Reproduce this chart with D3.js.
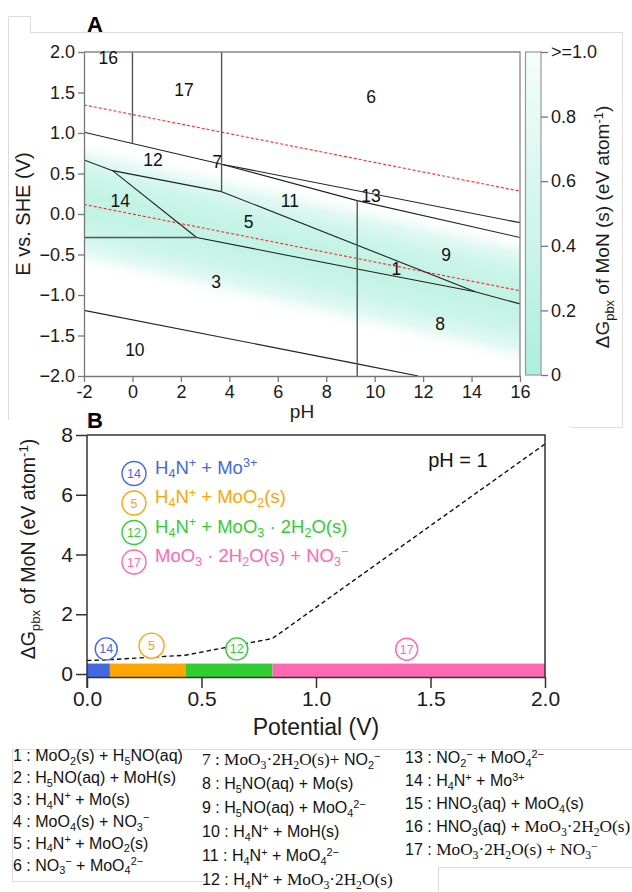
<!DOCTYPE html>
<html><head><meta charset="utf-8">
<script src="https://cdn.jsdelivr.net/npm/d3@7"></script>
<style>body{margin:0;background:#fff} svg{display:block} text{white-space:pre}</style>
</head><body>
<svg id="fig" width="632" height="892"></svg>
<script>
// ---------- Panel A: Pourbaix diagram of MoN ----------
const phTicks = [-2, 0, 2, 4, 6, 8, 10, 12, 14, 16];
const phTickLabels = ["-2", "0", "2", "4", "6", "8", "10", "12", "14", "16"];
const eTicks = [-2, -1.5, -1, -0.5, 0, 0.5, 1, 1.5, 2];
const eTickLabels = ["\u22122.0", "\u22121.5", "\u22121.0", "\u22120.5", "0.0", "0.5", "1.0", "1.5", "2.0"];
const cbTicks = [0, 0.2, 0.4, 0.6, 0.8, 1.0];
const cbTickLabels = ["0", "0.2", "0.4", "0.6", "0.8", ">=1.0"];

// phase boundaries as (pH, E) polylines
const slopedBoundaries = [
  [[-2, 1.01], [3.68, 0.615], [16, -0.107]],
  [[3.68, 0.615], [9.28, 0.165], [16, -0.29]],
  [[-2, 0.668], [-0.82, 0.535], [3.68, 0.276]],
  [[-0.82, 0.535], [2.65, -0.29]],
  [[2.65, -0.29], [9.28, -0.68], [14.15, -0.96], [16, -1.11]],
  [[3.68, 0.276], [14.15, -0.96]],
  [[-2, -1.19], [9.28, -1.85], [11.8, -2.0]]
];
const straightBoundaries = [
  [[0, 2], [0, 0.87]],
  [[3.68, 2], [3.68, 0.276]],
  [[9.28, 0.165], [9.28, -2]],
  [[-2, -0.29], [2.65, -0.29]]
];
// water stability limits
const waterUpper = [[-2, 1.347], [16, 0.282]];
const waterLower = [[-2, 0.118], [16, -0.947]];

// region numbers and their (pH, E) anchor
const regionIds = [16, 17, 6, 12, 7, 14, 11, 5, 13, 9, 1, 3, 8, 10];
const regionPH  = [-1.0, 2.13, 9.85, 0.85, 3.5, -0.5, 6.5, 4.8, 9.85, 12.95, 10.9, 3.45, 12.7, 0.1];
const regionE   = [1.93, 1.53, 1.45, 0.67, 0.64, 0.17, 0.17, -0.09, 0.22, -0.5, -0.67, -0.84, -1.36, -1.68];

// low-ΔGpbx band (MoN near-stable zone): centre line and ΔG profile across it
const bandCenter = [[-2, 0.12], [16, -1.08]];
const bandOffset = [-0.8, -0.58, -0.36, -0.12, 0.12, 0.36, 0.58, 0.8];
const bandDG     = [1.0, 0.72, 0.45, 0.3, 0.3, 0.45, 0.72, 1.0];

// ---------- Panel B: ΔGpbx at pH = 1 ----------
const potTicks = [0, 0.5, 1.0, 1.5, 2.0];
const potTickLabels = ["0.0", "0.5", "1.0", "1.5", "2.0"];
const dgTicks = [0, 2, 4, 6, 8];
const dgTickLabels = ["0", "2", "4", "6", "8"];
const hullPotential = [0, 0.10, 0.43, 0.81, 2.0];
const hullDG        = [0.45, 0.48, 0.63, 1.19, 7.7];
const stageIds   = [14, 5, 12, 17];
const stageStart = [0, 0.10, 0.43, 0.81];
const stageEnd   = [0.10, 0.43, 0.81, 2.0];
const stageColors = ["#4169e1", "#ffa500", "#32cd32", "#ff69b4"];
const stageBarTop = 0.35;
const stageLabelV  = [0.084, 0.282, 0.654, 1.396];
const stageLabelDG = [0.84, 0.95, 0.84, 0.83];
const stageNames = [
  "H_{4}N^{+} + Mo^{3+}",
  "H_{4}N^{+} + MoO_{2}(s)",
  "H_{4}N^{+} + MoO_{3} \u00b7 2H_{2}O(s)",
  "MoO_{3} \u00b7 2H_{2}O(s) + NO_{3}^{\u2212}"
];

// ---------- species key ----------
const speciesKey = [
  "1 : MoO_{2}(s) + H_{5}NO(aq)",
  "2 : H_{5}NO(aq) + MoH(s)",
  "3 : H_{4}N^{+} + Mo(s)",
  "4 : MoO_{4}(s) + NO_{3}^{\u2212}",
  "5 : H_{4}N^{+} + MoO_{2}(s)",
  "6 : NO_{3}^{\u2212} + MoO_{4}^{2\u2212}",
  "|7 : MoO_{3}\u00b72H_{2}O(s)+| NO_{2}^{\u2212}",
  "8 : H_{5}NO(aq) + Mo(s)",
  "9 : H_{5}NO(aq) + MoO_{4}^{2\u2212}",
  "10 : H_{4}N^{+} + MoH(s)",
  "11 : H_{4}N^{+} + MoO_{4}^{2\u2212}",
  "12 : H_{4}N^{+} + |MoO_{3}\u00b72H_{2}O(s)",
  "13 : NO_{2}^{\u2212} + MoO_{4}^{2\u2212}",
  "14 : H_{4}N^{+} + Mo^{3+}",
  "15 : HNO_{3}(aq) + MoO_{4}(s)",
  "16 : HNO_{3}(aq) + |MoO_{3}\u00b72H_{2}O(s)",
  "17 : |MoO_{3}\u00b72H_{2}O(s) + NO_{3}^{\u2212}"
];

const SANS = "'Liberation Sans', Arial, Helvetica, sans-serif";
const SERIF = "'Liberation Serif', 'Times New Roman', serif";

// text with _{sub}, ^{sup} and | (serif toggle)
function rich(t, str, size, serifScale) {
  let serif = false, shift = 0;
  str.split(/(_\{[^}]*\}|\^\{[^}]*\}|\|)/g).filter(s => s !== "").forEach(p => {
    if (p === "|") { serif = !serif; return; }
    let mode = null, txt = p;
    if (p.startsWith("_{")) { mode = "sub"; txt = p.slice(2, -1); }
    else if (p.startsWith("^{")) { mode = "sup"; txt = p.slice(2, -1); }
    const target = mode === "sub" ? size * 0.24 : mode === "sup" ? -size * 0.34 : 0;
    const base = serif ? size * (serifScale || 1) : size;
    const ts = t.append("tspan").text(txt).attr("dy", target - shift)
      .attr("font-size", mode ? base * 0.68 : base);
    shift = target;
    if (serif) ts.attr("font-family", SERIF);
  });
}

const svg = d3.select("#fig").attr("font-family", SANS);
const defs = svg.append("defs");

// faint panel outlines
const faint = svg.append("g").attr("fill", "none").attr("stroke", "#dcdcdc").attr("stroke-width", 1);
faint.append("path").attr("d", "M8.5,420 V16.5 H30.5 V32.5 H622.5 V427.5 H570.5");
faint.append("path").attr("d", "M12.5,882 V749.5 H632 M12.5,881.5 H207 M438.5,892 V867.5 H632");

// ===== Panel A =====
const xA = d3.scaleLinear().domain([-2, 16]).range([84, 520]);
const yA = d3.scaleLinear().domain([-2, 2]).range([376, 52]);
const cbScale = d3.scaleLinear().domain([0, 1]).range(["#adefdc", "#f5fdfa"]).clamp(true);

defs.append("clipPath").attr("id", "clipA").append("rect")
  .attr("x", xA(-2)).attr("y", yA(2)).attr("width", xA(16) - xA(-2)).attr("height", yA(-2) - yA(2));

// band gradient, perpendicular to the centre line
{
  const p0 = [xA(bandCenter[0][0]), yA(bandCenter[0][1])];
  const p1 = [xA(bandCenter[1][0]), yA(bandCenter[1][1])];
  const len = Math.hypot(p1[0] - p0[0], p1[1] - p0[1]);
  const d = [(p1[0] - p0[0]) / len, (p1[1] - p0[1]) / len];
  const n = [-d[1], d[0]];
  const kY = yA(0) - yA(1);
  const m = [(p0[0] + p1[0]) / 2, (p0[1] + p1[1]) / 2];
  const at = o => { const s = -o * kY * d[0]; return [m[0] + n[0] * s, m[1] + n[1] * s]; };
  const oMin = bandOffset[0], oMax = bandOffset[bandOffset.length - 1];
  const g1 = at(oMin), g2 = at(oMax);
  const grad = defs.append("linearGradient").attr("id", "bandGrad").attr("gradientUnits", "userSpaceOnUse")
    .attr("x1", g1[0]).attr("y1", g1[1]).attr("x2", g2[0]).attr("y2", g2[1]);
  bandOffset.forEach((o, i) => {
    grad.append("stop").attr("offset", (o - oMin) / (oMax - oMin))
      .attr("stop-color", cbScale(bandDG[i])).attr("stop-opacity", bandDG[i] >= 1 ? 0 : 1);
  });
}
const plotA = svg.append("g").attr("clip-path", "url(#clipA)");
plotA.append("rect").attr("x", xA(-2)).attr("y", yA(2)).attr("width", xA(16) - xA(-2))
  .attr("height", yA(-2) - yA(2)).attr("fill", "url(#bandGrad)");

const lineA = d3.line().x(d => xA(d[0])).y(d => yA(d[1]));
plotA.selectAll(".wl").data([waterUpper, waterLower]).join("path")
  .attr("d", lineA).attr("fill", "none").attr("stroke", "#ff2a2a").attr("stroke-width", 1.1)
  .attr("stroke-dasharray", "3,2");
plotA.selectAll(".sb").data(slopedBoundaries).join("path")
  .attr("d", lineA).attr("fill", "none").attr("stroke", "#222").attr("stroke-width", 1.1);
plotA.selectAll(".stb").data(straightBoundaries).join("path")
  .attr("d", lineA).attr("fill", "none").attr("stroke", "#555").attr("stroke-width", 1.4);

// frame
svg.append("path").attr("d", `M${xA(-2)},${yA(2)} H${xA(16)} V${yA(-2)}`)
  .attr("fill", "none").attr("stroke", "#888").attr("stroke-width", 1.3);

function styleAxis(g, color, width, size) {
  g.select(".domain").attr("stroke", color).attr("stroke-width", width);
  g.selectAll(".tick line").attr("stroke", color).attr("stroke-width", width);
  g.selectAll(".tick text").attr("font-size", size).attr("fill", "#1a1a1a").attr("font-family", SANS);
}
const axAy = svg.append("g").attr("transform", `translate(${xA(-2)},0)`)
  .call(d3.axisLeft(yA).tickValues(eTicks).tickFormat((d, i) => eTickLabels[i]).tickSize(6).tickSizeOuter(0));
styleAxis(axAy, "#777", 1.3, 18);
const axAx = svg.append("g").attr("transform", `translate(0,${yA(-2)})`)
  .call(d3.axisBottom(xA).tickValues(phTicks).tickFormat((d, i) => phTickLabels[i]).tickSize(6).tickSizeOuter(0));
styleAxis(axAx, "#777", 1.3, 18);

svg.append("g").selectAll("text").data(regionIds).join("text")
  .attr("x", (d, i) => xA(regionPH[i])).attr("y", (d, i) => yA(regionE[i]))
  .attr("dy", "0.36em").attr("text-anchor", "middle").attr("font-size", 17.5).attr("fill", "#111")
  .text(d => d);

svg.append("text").attr("x", 302).attr("y", 418).attr("text-anchor", "middle")
  .attr("font-size", 19).attr("fill", "#1a1a1a").text("pH");
svg.append("text").attr("transform", `translate(30,214) rotate(-90)`).attr("text-anchor", "middle")
  .attr("font-size", 20).attr("fill", "#1a1a1a").text("E vs. SHE (V)");
svg.append("text").attr("x", 87).attr("y", 32).attr("font-size", 22).attr("font-weight", "bold").text("A");

// colorbar
const cbY = d3.scaleLinear().domain([0, 1]).range([375, 52]);
const cbGrad = defs.append("linearGradient").attr("id", "cbGrad").attr("x1", 0).attr("y1", 1).attr("x2", 0).attr("y2", 0);
cbTicks.forEach(v => cbGrad.append("stop").attr("offset", v).attr("stop-color", cbScale(v)));
svg.append("rect").attr("x", 525.5).attr("y", cbY(1)).attr("width", 15.5).attr("height", cbY(0) - cbY(1))
  .attr("fill", "url(#cbGrad)").attr("stroke", "#999").attr("stroke-width", 1.2);
const axCb = svg.append("g").attr("transform", "translate(541,0)")
  .call(d3.axisRight(cbY).tickValues(cbTicks).tickFormat((d, i) => cbTickLabels[i]).tickSize(7).tickSizeOuter(0));
styleAxis(axCb, "#777", 1.3, 18);
axCb.select(".domain").remove();
const cbLabel = svg.append("text").attr("transform", "translate(609,227) rotate(-90)")
  .attr("text-anchor", "middle").attr("fill", "#1a1a1a");
rich(cbLabel, "\u0394G_{pbx} of MoN (s) (eV atom^{-1})", 19);

// ===== Panel B =====
const xB = d3.scaleLinear().domain([0, 2]).range([87, 545]);
const yB = d3.scaleLinear().domain([-0.1, 8]).range([677, 435]);

svg.append("g").selectAll("rect").data(stageIds).join("rect")
  .attr("x", (d, i) => xB(stageStart[i])).attr("width", (d, i) => xB(stageEnd[i]) - xB(stageStart[i]))
  .attr("y", yB(stageBarTop)).attr("height", yB(-0.1) - yB(stageBarTop))
  .attr("fill", (d, i) => stageColors[i]);

const hull = hullPotential.map((p, i) => [p, hullDG[i]]);
svg.append("path").datum(hull).attr("d", d3.line().x(d => xB(d[0])).y(d => yB(d[1])))
  .attr("fill", "none").attr("stroke", "#111").attr("stroke-width", 1.4).attr("stroke-dasharray", "4.5,3");

const marks = svg.append("g").selectAll("g").data(stageIds).join("g")
  .attr("transform", (d, i) => `translate(${xB(stageLabelV[i])},${yB(stageLabelDG[i])})`);
marks.append("circle").attr("r", (d, i) => i === 1 ? 12.5 : 11).attr("fill", "#fff")
  .attr("stroke", (d, i) => stageColors[i]).attr("stroke-width", 1.4);
marks.append("text").attr("text-anchor", "middle").attr("dy", "0.36em").attr("font-size", 12.5)
  .attr("fill", (d, i) => stageColors[i]).text(d => d);

// box
svg.append("path").attr("d", `M${xB(0)},${yB(8)} H${xB(2)} V${yB(-0.1)}`)
  .attr("fill", "none").attr("stroke", "#333").attr("stroke-width", 1.5);
const axBy = svg.append("g").attr("transform", `translate(${xB(0)},0)`)
  .call(d3.axisLeft(yB).tickValues(dgTicks).tickFormat((d, i) => dgTickLabels[i]).tickSize(11).tickSizeOuter(0));
styleAxis(axBy, "#333", 1.5, 21);
axBy.select(".domain").attr("d", `M0,${yB(8)} V${yB(-0.1) + 11}`);
const axBx = svg.append("g").attr("transform", `translate(0,${yB(-0.1)})`)
  .call(d3.axisBottom(xB).tickValues(potTicks).tickFormat((d, i) => potTickLabels[i]).tickSize(11).tickSizeOuter(0));
styleAxis(axBx, "#333", 1.5, 21);

// legend
const leg = svg.append("g").selectAll("g").data(stageIds).join("g")
  .attr("transform", (d, i) => `translate(134,${473.5 + i * 29.5})`);
leg.append("circle").attr("r", 12).attr("fill", "#fff")
  .attr("stroke", (d, i) => stageColors[i]).attr("stroke-width", 1.4);
leg.append("text").attr("text-anchor", "middle").attr("dy", "0.36em").attr("font-size", 12.5)
  .attr("fill", (d, i) => stageColors[i]).text(d => d);
leg.each(function (d, i) {
  const t = d3.select(this).append("text").attr("x", 21).attr("dy", "0.36em")
    .attr("fill", stageColors[i]);
  rich(t, stageNames[i], 18.5);
});

svg.append("text").attr("x", 458).attr("y", 467).attr("text-anchor", "middle")
  .attr("font-size", 20).attr("fill", "#111").text("pH = 1");

svg.append("text").attr("x", 316).attr("y", 735).attr("text-anchor", "middle")
  .attr("font-size", 23).attr("fill", "#1a1a1a").text("Potential (V)");
const yLabB = svg.append("text").attr("transform", "translate(35,549) rotate(-90)")
  .attr("text-anchor", "middle").attr("fill", "#1a1a1a");
rich(yLabB, "\u0394G_{pbx} of MoN (eV atom^{-1})", 19.5);
svg.append("text").attr("x", 87).attr("y", 428).attr("font-size", 22).attr("font-weight", "bold").text("B");

// ===== species key =====
const keyCols = [
  { x: 13, y0: 761, step: 21.9, from: 0, to: 6 },
  { x: 202, y0: 765, step: 24, from: 6, to: 12 },
  { x: 405, y0: 763, step: 23, from: 12, to: 17 }
];
keyCols.forEach(c => {
  speciesKey.slice(c.from, c.to).forEach((s, j) => {
    const t = svg.append("text").attr("x", c.x).attr("y", c.y0 + j * c.step).attr("dy", "0.36em")
      .attr("fill", "#111");
    rich(t, s, 16, 1.08);
  });
});
</script></body></html>
